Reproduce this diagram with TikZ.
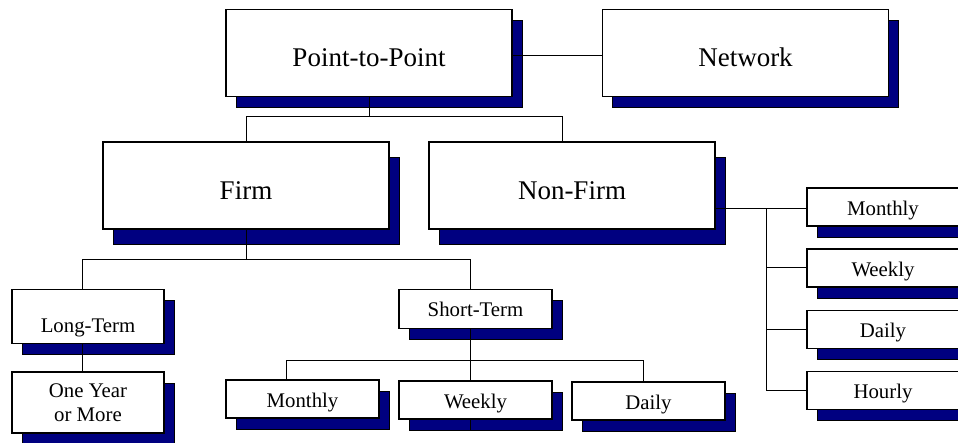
\documentclass[tikz,border=0pt]{standalone}
\usepackage{fontspec}
\setmainfont{Liberation Serif}
\definecolor{navyshade}{RGB}{0,0,128}
\pgfdeclarelayer{shadowlayer}
\pgfdeclarelayer{linelayer}
\pgfsetlayers{shadowlayer,linelayer,main}
\begin{document}
\begin{tikzpicture}[x=1pt,y=-1pt,
  boxbase/.style={draw=black, line width=1.1pt, fill=white, inner sep=0pt, outer sep=0pt, align=center},
  bigbox/.style={boxbase, minimum width=286pt, minimum height=87pt, font=\fontsize{27}{31}\selectfont, text height=28pt, text depth=0pt},
  smallbox/.style={boxbase, minimum width=153pt, minimum height=38pt, font=\fontsize{20.8}{24}\selectfont, text height=16.5pt, text depth=0pt},
  link/.style={draw=black, line width=1pt},
  shade/.style={fill=navyshade, draw=black, line width=0.6pt}
]
\useasboundingbox (0,0) rectangle (958,443);
\clip (0,0) rectangle (958,443);

% boxes
\node[bigbox] (p2p) at (369,53) {Point-to-Point};
\node[bigbox] (net) at (745.5,53) {Network};
\node[bigbox] (firm) at (246,185.5) {Firm};
\node[bigbox] (nonfirm) at (572,185.5) {Non-Firm};
\node[smallbox, minimum width=152pt, minimum height=54pt, text height=33pt] (long) at (88,316.3) {Long-Term};
\node[boxbase, minimum width=152pt, minimum height=61pt, font=\fontsize{20.8}{24}\selectfont] (oneyear) at (88,402.5) {One Year\\or More};
\node[smallbox, minimum height=39pt, text height=15pt] (short) at (475.5,308.8) {Short-Term};
\node[smallbox] (stm) at (302.5,399) {Monthly};
\node[smallbox] (stw) at (475.5,400) {Weekly};
\node[smallbox] (std) at (648.5,401) {Daily};
\node[smallbox, minimum width=152pt] (nfm) at (883,207) {Monthly};
\node[smallbox, minimum width=152pt] (nfw) at (883,268) {Weekly};
\node[smallbox, minimum width=152pt] (nfd) at (883,329.5) {Daily};
\node[smallbox, minimum width=152pt] (nfh) at (883,390.5) {Hourly};

% shadows
\begin{pgfonlayer}{shadowlayer}
\foreach \n in {p2p,net,long,oneyear,short,stm,stw,std,nfm,nfw,nfd,nfh}
  \path[shade] ([shift={(10,11)}]\n.north west) rectangle ([shift={(10,11)}]\n.south east);
\foreach \n in {firm,nonfirm}
  \path[shade] ([shift={(10,15)}]\n.north west) rectangle ([shift={(10,15)}]\n.south east);
\end{pgfonlayer}

% connectors
\begin{pgfonlayer}{linelayer}
\coordinate (hy) at (0,55.7);
\draw[link] (p2p.east |- hy) -- (net.west |- hy);
\coordinate (j1) at (369,116.3);
\coordinate (firmtop) at (246,116.3);
\coordinate (nftop) at (562.3,116.3);
\draw[link] (p2p) -- (j1);
\draw[link] (firm) -- (firmtop) -- (nftop) -- (nftop |- nonfirm.north);
\coordinate (j2) at (246,259.7);
\coordinate (ltop) at (82.7,259.7);
\coordinate (stop) at (470.7,259.7);
\coordinate (sbot) at (470.7,430);
\draw[link] (firm) -- (j2);
\draw[link] (ltop |- long.north) -- (ltop) -- (stop) -- (stop |- short.north);
\draw[link] (ltop |- long.south) -- (ltop |- oneyear.north);
\draw[link] (stop |- short.south) -- (sbot);
\coordinate (b1) at (286.7,360.7);
\coordinate (b2) at (643.7,360.7);
\draw[link] (b1 |- stm.north) -- (b1) -- (b2) -- (b2 |- std.north);
\coordinate (r0) at (766,208.3);
\draw[link] (nonfirm.east |- r0) -- (nfm.west |- r0);
\draw[link] (r0) -- (r0 |- nfh.west) -- (nfh.west);
\draw[link] (r0 |- nfw.west) -- (nfw.west);
\draw[link] (r0 |- nfd.west) -- (nfd.west);
\end{pgfonlayer}
\end{tikzpicture}
\end{document}
